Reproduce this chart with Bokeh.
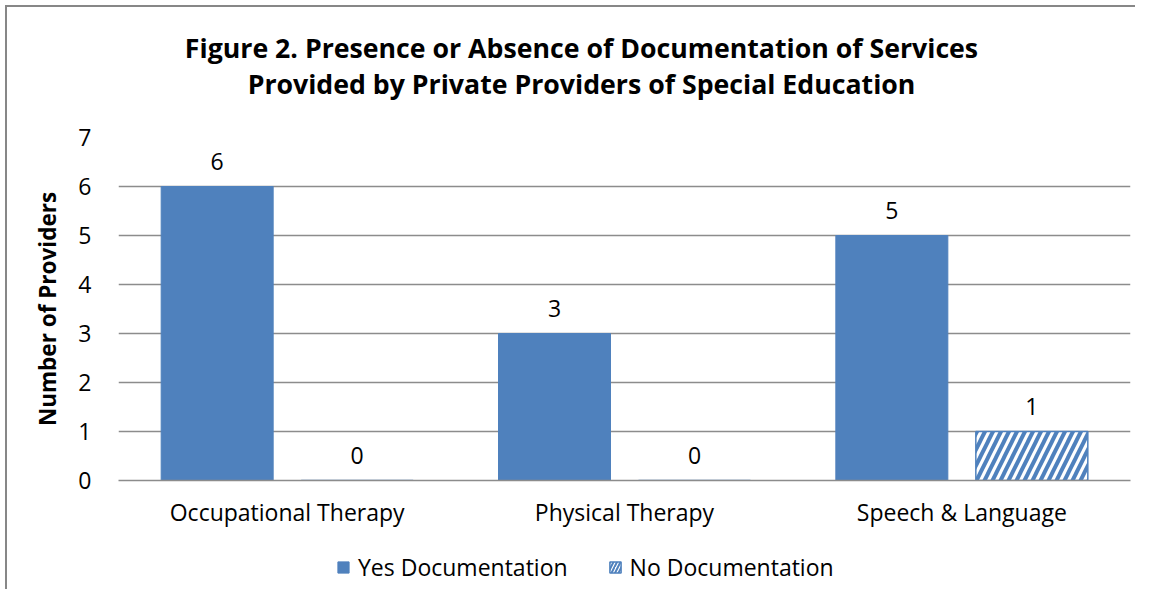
from bokeh.plotting import figure
from bokeh.layouts import column
from bokeh.models import (ColumnDataSource, FactorRange, Range1d, Legend, LegendItem,
                          FixedTicker, BoxAnnotation)
from bokeh.transform import dodge
from bokeh.core.properties import value
from bokeh.embed import file_html
from bokeh.resources import INLINE

categories = ["Occupational Therapy", "Physical Therapy", "Speech & Language"]
yes_documentation = [6, 3, 5]
no_documentation = [0, 0, 1]
series_names = ["Yes Documentation", "No Documentation"]
title_lines = ["Figure 2. Presence or Absence of Documentation of Services",
               "Provided by Private Providers of Special Education"]
y_label = "Number of Providers"
y_ticks = [0, 1, 2, 3, 4, 5, 6, 7]

FONT = "Open Sans"
BLUE = "#4F81BD"
GRID = "#8C8C8C"
W = 1128
BL = 111          # left border (frame start)
BR = W - 1123     # right border


def bare(fig):
    fig.outline_line_color = None
    fig.xgrid.grid_line_color = None
    fig.ygrid.grid_line_color = None
    fig.background_fill_color = "white"
    fig.border_fill_color = "white"
    return fig


# ---- title strip (x in page pixels of the frame: 118..1130) ----
TH = 114
pt = bare(figure(width=W, height=TH, output_backend="svg", toolbar_location=None,
                 x_range=Range1d(118, 1130), y_range=Range1d(0, TH),
                 x_axis_location=None, y_axis_location=None,
                 min_border_left=BL, min_border_right=BR,
                 min_border_top=0, min_border_bottom=0))
pt.text(x=[581, 581], y=[TH - 40, TH - 76], text=title_lines,
        text_align="center", text_baseline="middle",
        text_font=value(FONT), text_font_size="26.7px", text_font_style="bold",
        text_color="black")

# ---- main chart ----
src = ColumnDataSource(dict(
    cat=categories,
    yes=yes_documentation,
    no=no_documentation,
    yes_txt=[str(v) for v in yes_documentation],
    no_txt=[str(v) for v in no_documentation],
))

p = figure(width=W, height=415, output_backend="svg", toolbar_location=None,
           x_range=FactorRange(*categories, range_padding=0),
           y_range=Range1d(0, 7),
           min_border_left=BL, min_border_right=BR,
           min_border_top=16, min_border_bottom=56)
p.outline_line_color = None
p.background_fill_color = "white"
p.border_fill_color = "white"

off = 0.2075
w = 0.332
r_yes = p.vbar(x=dodge("cat", -off, range=p.x_range), top="yes", width=w, source=src,
               fill_color=BLUE, line_color=BLUE)
r_no = p.vbar(x=dodge("cat", off, range=p.x_range), top="no", width=w, source=src,
              fill_color="white", line_color=BLUE, line_width=1.5,
              hatch_pattern="/", hatch_color=BLUE, hatch_weight=4, hatch_scale=16)

p.text(x=dodge("cat", -off, range=p.x_range), y="yes", text="yes_txt", source=src,
       text_align="center", text_baseline="bottom", y_offset=-17,
       text_font=value(FONT), text_font_size="23px", text_color="black")
p.text(x=dodge("cat", off, range=p.x_range), y="no", text="no_txt", source=src,
       text_align="center", text_baseline="bottom", y_offset=-17,
       text_font=value(FONT), text_font_size="23px", text_color="black")

p.yaxis.ticker = FixedTicker(ticks=y_ticks)
p.yaxis.axis_line_color = None
p.yaxis.major_tick_line_color = None
p.yaxis.minor_tick_line_color = None
p.yaxis.major_label_text_font = FONT
p.yaxis.major_label_text_font_size = "23px"
p.yaxis.major_label_text_color = "black"
p.yaxis.major_label_standoff = 21
p.yaxis.axis_label = y_label
p.yaxis.axis_label_text_font = FONT
p.yaxis.axis_label_text_font_size = "22.5px"
p.yaxis.axis_label_text_font_style = "bold"
p.yaxis.axis_label_text_color = "black"
p.yaxis.axis_label_standoff = 12

p.xaxis.axis_line_color = GRID
p.xaxis.axis_line_width = 1.5
p.xaxis.major_tick_line_color = None
p.xaxis.minor_tick_line_color = None
p.xaxis.major_label_text_font = FONT
p.xaxis.major_label_text_font_size = "23px"
p.xaxis.major_label_text_color = "black"
p.xaxis.major_label_standoff = 9

p.xgrid.grid_line_color = None
p.ygrid.grid_line_color = GRID
p.ygrid.grid_line_width = 1.5

# ---- legend strip (bars drawn from the data but out of view and covered) ----
LH = 53
pl = bare(figure(width=W, height=LH, output_backend="svg", toolbar_location=None,
                 x_range=FactorRange(*categories, range_padding=0),
                 y_range=Range1d(100, 101),
                 x_axis_location=None, y_axis_location=None,
                 min_border_left=BL, min_border_right=BR,
                 min_border_top=0, min_border_bottom=0))
l_yes = pl.vbar(x="cat", top="yes", width=w, source=src,
                fill_color=BLUE, line_color=BLUE)
l_no = pl.vbar(x="cat", top="no", width=w, source=src,
               fill_color="white", line_color=BLUE, line_width=1.5,
               hatch_pattern="/", hatch_color=BLUE, hatch_weight=2, hatch_scale=7)
pl.add_layout(BoxAnnotation(fill_color="white", fill_alpha=1.0, line_color=None))
legend = Legend(items=[LegendItem(label=series_names[0], renderers=[l_yes]),
                       LegendItem(label=series_names[1], renderers=[l_no])],
                orientation="horizontal", location=(218, 6),
                label_text_font=FONT, label_text_font_size="23px",
                label_text_color="black", glyph_width=14, glyph_height=14,
                label_standoff=8, spacing=40, border_line_color=None,
                background_fill_alpha=0, padding=0, margin=0)
pl.add_layout(legend, "center")

layout = column(pt, p, pl, spacing=0)
layout.styles = {"border-left": "2px solid #878787", "border-top": "2px solid #878787",
                 "margin-left": "5px", "margin-top": "5px"}

open("out.html", "w").write(file_html(layout, INLINE))
